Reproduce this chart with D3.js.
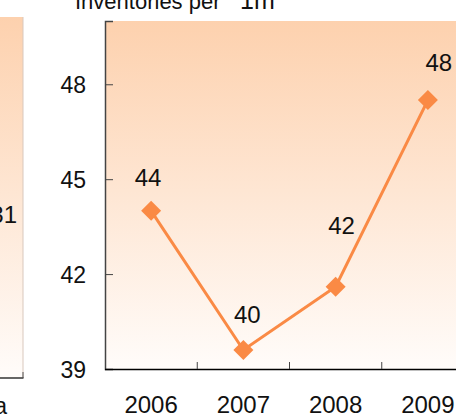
<!DOCTYPE html>
<html><head><meta charset="utf-8">
<script src="https://cdn.jsdelivr.net/npm/d3@7"></script>
<style>
html,body{margin:0;padding:0;background:#fff;}
svg{display:block;font-family:"Liberation Sans",Arial,sans-serif;}
</style></head>
<body>
<svg id="chart" width="456" height="415"></svg>
<script>
const years = ["2006", "2007", "2008", "2009"];
const inventories = [44.0, 39.6, 41.6, 47.5];
const yTicks = [39, 42, 45, 48];
const yDomain = [39, 50];
const titleParts = ["Inventories per", "1m"];
const leftPanelLabel = "31";
const leftPanelCategory = "a";
// label nudges (layout only, px)
const labelDx = [-3, 4, 6, 11];
const labelDy = [-25, -27, -53, -29];

(function(){
const svg = d3.select("#chart");
const defs = svg.append("defs");
const grad = defs.append("linearGradient").attr("id","bg").attr("x1",0).attr("y1",0).attr("x2",0).attr("y2",1);
grad.append("stop").attr("offset","0%").attr("stop-color","#FDD1AE");
grad.append("stop").attr("offset","100%").attr("stop-color","#FFFCFA");

// Left (neighbouring) panel, mostly cut off
svg.append("rect").attr("x",-10).attr("y",17).attr("width",33).attr("height",361).attr("fill","url(#bg)");
svg.append("line").attr("x1",23).attr("x2",23).attr("y1",17).attr("y2",378).attr("stroke","#d9c8bd").attr("stroke-width",1);
svg.append("line").attr("x1",0).attr("x2",23.5).attr("y1",378).attr("y2",378).attr("stroke","#000").attr("stroke-width",1.2);
svg.append("line").attr("x1",23).attr("x2",23).attr("y1",372).attr("y2",378).attr("stroke","#555").attr("stroke-width",1);
svg.append("text").attr("x",17).attr("y",223).attr("text-anchor","end").attr("font-size",24).attr("fill","#111").text(leftPanelLabel);
svg.append("text").attr("x",7).attr("y",414).attr("text-anchor","end").attr("font-size",23).attr("fill","#111").text(leftPanelCategory);

// Main panel
const mL = 105, mT = 21, mR = 474, mB = 369;
const x = d3.scaleBand().domain(years).range([mL, mR]).paddingInner(0).paddingOuter(0);
const y = d3.scaleLinear().domain(yDomain).range([mB, mT]);

svg.append("rect").attr("x",mL).attr("y",mT).attr("width",mR-mL).attr("height",mB-mT).attr("fill","url(#bg)");

// Title
const title = svg.append("text").attr("y",9).attr("font-size",22).attr("fill","#111");
title.append("tspan").attr("x",75).text(titleParts[0]);
title.append("tspan").attr("x",240).attr("font-size",25).text(titleParts[1]);

// Y axis
const yAxis = d3.axisLeft(y).tickValues(yTicks).tickSize(-8).tickPadding(19).tickFormat(d3.format("d"));
const gy = svg.append("g").attr("transform",`translate(${mL},0)`).call(yAxis);
gy.select(".domain").attr("stroke","#444").attr("stroke-width",1.5);
gy.selectAll(".tick line").attr("stroke","#444");
gy.selectAll(".tick text").attr("font-size",23).attr("fill","#111").attr("font-family","Liberation Sans, Arial, sans-serif").attr("dy","0.35em");
gy.selectAll(".tick").filter(d => d === 39).select("line").remove();

// X axis
const gx = svg.append("g").attr("transform",`translate(0,${mB})`);
gx.append("line").attr("x1",mL).attr("x2",mR).attr("y1",0.5).attr("y2",0.5).attr("stroke","#000").attr("stroke-width",1.5);
gx.selectAll("line.tk").data(years.slice(1)).join("line").attr("class","tk")
  .attr("x1",d=>x(d)).attr("x2",d=>x(d)).attr("y1",0).attr("y2",-7).attr("stroke","#444").attr("stroke-width",1);
gx.selectAll("text").data(years).join("text")
  .attr("x",d=>x(d)+x.bandwidth()/2).attr("y",44).attr("text-anchor","middle")
  .attr("font-size",24).attr("fill","#111").text(d=>d);

// Line
const cx = (d,i) => x(years[i]) + x.bandwidth()/2;
const line = d3.line().x((d,i)=>cx(d,i)).y(d=>y(d));
svg.append("path").datum(inventories).attr("d",line).attr("fill","none").attr("stroke","#FA8A45").attr("stroke-width",3);

// Markers
const sym = d3.symbol().type(d3.symbolSquare).size(200);
svg.selectAll("path.mk").data(inventories).join("path").attr("class","mk")
  .attr("d",sym).attr("fill","#FA8A45")
  .attr("transform",(d,i)=>`translate(${cx(d,i)},${y(d)}) rotate(45)`);

// Data labels
svg.selectAll("text.lbl").data(inventories).join("text").attr("class","lbl")
  .attr("x",(d,i)=>cx(d,i)+labelDx[i]).attr("y",(d,i)=>y(d)+labelDy[i])
  .attr("text-anchor","middle").attr("font-size",24).attr("fill","#111")
  .text(d=>Math.round(d));
})();
</script>
</body></html>
